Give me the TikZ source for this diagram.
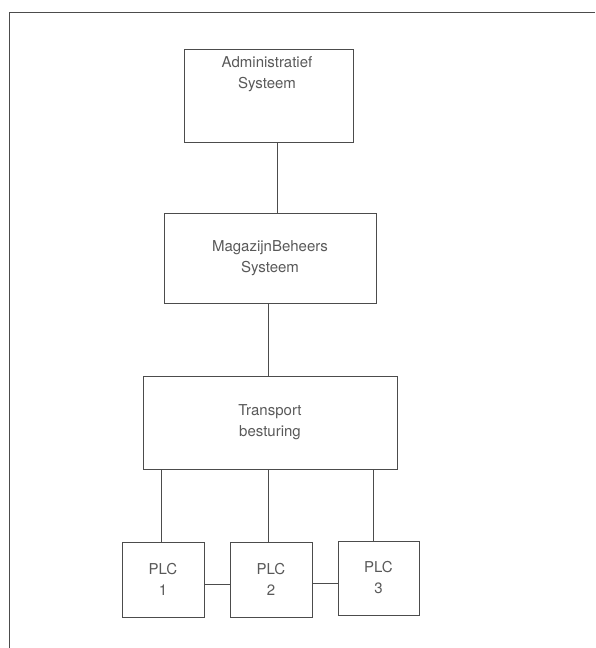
\documentclass[tikz,border=0pt]{standalone}
\usepackage{fontspec}
\setmainfont{TeX Gyre Heros}
\begin{document}
\begin{tikzpicture}[x=1pt,y=-1pt,
  box/.style={draw=black!70, line width=0.6pt, rectangle, inner sep=0pt},
  lbl/.style={align=center, text=black!65, font=\fontsize{15}{21}\selectfont, inner sep=0pt},
  link/.style={draw=black!70, line width=0.6pt}]
\useasboundingbox (0,0) rectangle (595,648);
% outer frame (page edge)
\coordinate (fbl) at (9,648);
\coordinate (ftl) at (9,12.5);
\coordinate (ftr) at (595,12.5);
\draw[black!70, line width=0.8pt] (fbl) -- (ftl) -- (ftr);
% boxes
\node[box, minimum width=169, minimum height=93] (admin) at (268.5,95.5) {};
\node[lbl] (admintxt) at (267,74) {Administratief\\Systeem};
\node[box, minimum width=212, minimum height=90, lbl, draw=black!70] (mag) at (270,258) {MagazijnBeheers\\Systeem};
\node[box, minimum width=254, minimum height=93, lbl, draw=black!70] (trans) at (270,422.5) {Transport\\besturing};
\node[box, minimum width=82, minimum height=75, lbl, draw=black!70] (plc1) at (163,579.5) {PLC\\1};
\node[box, minimum width=82, minimum height=75, lbl, draw=black!70] (plc2) at (271,579.5) {PLC\\2};
\node[box, minimum width=81, minimum height=74, lbl, draw=black!70] (plc3) at (378.5,578) {PLC\\3};
% connectors
\draw[link] (admin.south -| 277,0) -- (mag.north -| 277,0);
\draw[link] (mag.south -| 268,0) -- (trans.north -| 268,0);
\draw[link] (trans.south -| 161,0) -- (plc1.north -| 161,0);
\draw[link] (trans.south -| 268,0) -- (plc2.north -| 268,0);
\draw[link] (trans.south -| 373,0) -- (plc3.north -| 373,0);
\draw[link] (plc1.east |- 0,584) -- (plc2.west |- 0,584);
\draw[link] (plc2.east |- 0,583) -- (plc3.west |- 0,583);
\end{tikzpicture}
\end{document}
